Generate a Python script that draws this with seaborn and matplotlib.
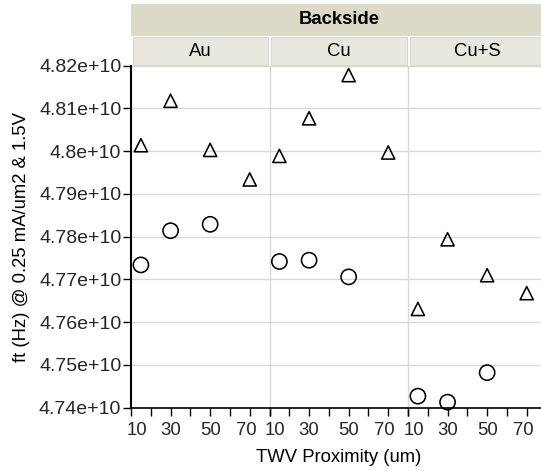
import numpy as np
import pandas as pd
import matplotlib
matplotlib.use("Agg")
import matplotlib.pyplot as plt
from matplotlib.patches import Rectangle
from matplotlib.ticker import FixedLocator, FuncFormatter
from matplotlib.transforms import ScaledTranslation
import seaborn as sns

# ---- data ----
panels = ["Au", "Cu", "Cu+S"]
x_tri = [15, 30, 50, 70]
x_circ = [15, 30, 50]
tri_vals = {
    "Au":   [4.8014e10, 4.8118e10, 4.8003e10, 4.7934e10],
    "Cu":   [4.7989e10, 4.8077e10, 4.8178e10, 4.7997e10],
    "Cu+S": [4.7631e10, 4.7794e10, 4.7710e10, 4.7668e10],
}
circ_vals = {
    "Au":   [4.7734e10, 4.7814e10, 4.7829e10],
    "Cu":   [4.7742e10, 4.7745e10, 4.7706e10],
    "Cu+S": [4.7427e10, 4.7413e10, 4.7482e10],
}
x_major = [10, 30, 50, 70]
x_minor = [20, 40, 60, 80]
y_ticks = [4.74e10, 4.75e10, 4.76e10, 4.77e10, 4.78e10, 4.79e10, 4.80e10, 4.81e10, 4.82e10]
header_title = "Backside"
x_title = "TWV Proximity (um)"
y_title = "ft (Hz) @ 0.25 mA/um2 & 1.5V"

rows = []
for p in panels:
    for x, v in zip(x_tri, tri_vals[p]):
        rows.append(dict(panel=p, x=x, y=v, kind="tri"))
    for x, v in zip(x_circ, circ_vals[p]):
        rows.append(dict(panel=p, x=x, y=v, kind="circ"))
df = pd.DataFrame(rows)

sns.set_theme(style="white")
plt.rcParams["font.family"] = ["Liberation Sans", "DejaVu Sans"]
FS = 13.3
FS_Y = 14.0

W, H = 541, 471
fig = plt.figure(figsize=(W / 100, H / 100), dpi=100)

left0 = 131
pw = 138.5
top = 65.7
bot = 407.7
grid_c = "#d9d9d9"

axes = []
for i, p in enumerate(panels):
    l = left0 + i * pw
    ax = fig.add_axes([l / W, 1 - bot / H, pw / W, (bot - top) / H])
    axes.append(ax)
    d = df[df.panel == p]
    sns.scatterplot(data=d[d.kind == "tri"], x="x", y="y", marker="^", s=90,
                    color="black", facecolor="none", edgecolor="black",
                    linewidth=1.15, ax=ax, clip_on=False, zorder=3)
    sns.scatterplot(data=d[d.kind == "circ"], x="x", y="y", marker="o", s=120,
                    color="black", facecolor="none", edgecolor="black",
                    linewidth=1.15, ax=ax, clip_on=False, zorder=3)
    ax.set_xlim(10, 80)
    ax.set_ylim(4.74e10, 4.82e10)
    ax.yaxis.set_major_locator(FixedLocator(y_ticks))
    ax.xaxis.set_major_locator(FixedLocator(x_major))
    ax.xaxis.set_minor_locator(FixedLocator(x_minor))
    ax.xaxis.set_major_formatter(FuncFormatter(lambda v, pos: f"{int(v)}"))
    ax.grid(axis="y", color=grid_c, linewidth=1.0)
    ax.grid(axis="x", visible=False)
    ax.set_axisbelow(True)
    ax.set_xlabel("")
    ax.set_ylabel("")
    for s in ["top", "right"]:
        ax.spines[s].set_visible(False)
    ax.spines["bottom"].set_color("black")
    ax.spines["bottom"].set_linewidth(1.2)
    ax.tick_params(axis="x", which="both", direction="out", length=6, width=1.0,
                   color="black", labelsize=FS, pad=4, bottom=True)
    if i == 0:
        ax.spines["left"].set_color("black")
        ax.spines["left"].set_linewidth(1.5)
        ax.tick_params(axis="y", which="major", direction="out", length=6, width=1.0,
                       color="black", labelsize=FS_Y, pad=1, left=True)
        ax.yaxis.set_major_formatter(
            FuncFormatter(lambda v, pos: f"{round(v / 1e10, 4):g}e+10"))
    else:
        ax.spines["left"].set_color(grid_c)
        ax.spines["left"].set_linewidth(1.0)
        ax.tick_params(axis="y", left=False, labelleft=False)
    # nudge edge labels like the reference
    for lbl, val in zip(ax.get_xticklabels(), x_major):
        if val == 10:
            lbl.set_transform(lbl.get_transform() + ScaledTranslation(5.5 / 100, 0, fig.dpi_scale_trans))
        elif val == 70:
            lbl.set_transform(lbl.get_transform() + ScaledTranslation(-3.5 / 100, 0, fig.dpi_scale_trans))

# ---- headers ----
top_c = "#dbd9c8"
sub_c = "#e8e8df"
sub_edge = "#d6d6cb"
full_r = left0 + 3 * pw
fig.patches.append(Rectangle((left0 / W, 1 - 35.5 / H), (full_r - left0) / W, 31.5 / H,
                             transform=fig.transFigure, facecolor=top_c, edgecolor="none"))
fig.text((left0 + full_r) / 2 / W, 1 - 20 / H, header_title, ha="center", va="center",
         fontsize=FS, fontweight="bold", color="black")
for i, p in enumerate(panels):
    l = left0 + i * pw + 1.5
    r = left0 + (i + 1) * pw - 1.5
    fig.patches.append(Rectangle((l / W, 1 - 64.5 / H), (r - l) / W, 27.5 / H,
                                 transform=fig.transFigure, facecolor=sub_c,
                                 edgecolor=sub_edge, linewidth=0.8))
    fig.text((left0 + (i + 0.5) * pw) / W, 1 - 51 / H, p, ha="center", va="center",
             fontsize=FS, color="black")

fig.text(22 / W, 1 - (top + bot) / 2 / H, y_title, rotation=90, ha="center", va="center",
         fontsize=FS, color="black")
fig.text((left0 + full_r) / 2 / W, 1 - 458 / H, x_title, ha="center", va="center",
         fontsize=FS, color="black")

fig.savefig("out.png", dpi=100)
